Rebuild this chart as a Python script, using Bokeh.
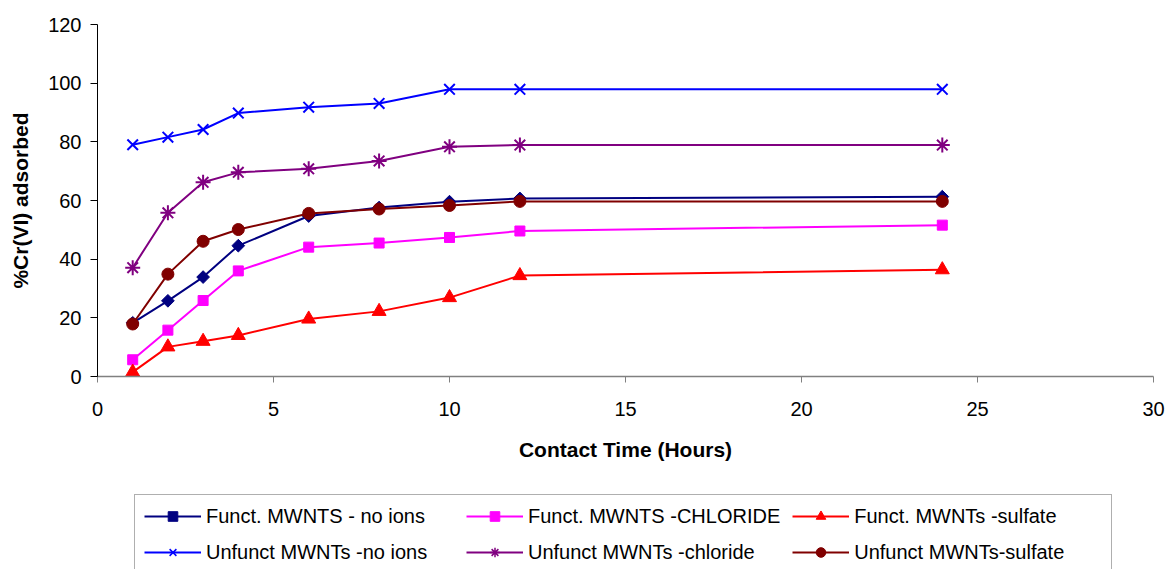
import numpy as np
from bokeh.plotting import figure
from bokeh.layouts import column
from bokeh.models import Legend, LegendItem, Range1d, FixedTicker
from bokeh.embed import file_html
from bokeh.resources import INLINE

# ---- data ----
time_hours = [1, 2, 3, 4, 6, 8, 10, 12, 24]
funct_no_ions = [18.3, 25.8, 33.9, 44.6, 54.7, 57.6, 59.6, 60.7, 61.3]
funct_chloride = [5.7, 15.8, 25.9, 36.0, 44.1, 45.5, 47.4, 49.6, 51.6]
funct_sulfate = [1.5, 10.1, 12.0, 14.0, 19.6, 22.2, 26.9, 34.4, 36.4]
unfunct_no_ions = [79.0, 81.6, 84.2, 89.8, 91.8, 93.1, 97.9, 97.9, 97.9]
unfunct_chloride = [37.1, 55.8, 66.2, 69.6, 70.8, 73.5, 78.3, 78.9, 78.9]
unfunct_sulfate = [17.9, 34.9, 46.1, 50.1, 55.6, 57.1, 58.3, 59.7, 59.7]

series_labels = [
    "Funct. MWNTS - no ions",
    "Funct. MWNTS -CHLORIDE",
    "Funct. MWNTs -sulfate",
    "Unfunct MWNTs -no ions",
    "Unfunct MWNTs -chloride",
    "Unfunct MWNTs-sulfate",
]
series_values = [funct_no_ions, funct_chloride, funct_sulfate,
                 unfunct_no_ions, unfunct_chloride, unfunct_sulfate]
series_colors = ["#000080", "#FF00FF", "#FF0000", "#0000FF", "#800080", "#800000"]
series_markers = ["square", "square", "triangle", "x", "asterisk", "circle"]
series_sizes = [9, 10, 14, 15, 15, 12]
series_angles = [np.pi / 4, 0, 0, 0, 0, 0]
# legend cells are filled column by column: (Funct, Unfunct) pairs
legend_order = [0, 3, 1, 4, 2, 5]

x_ticks = [0, 5, 10, 15, 20, 25, 30]
y_ticks = [0, 20, 40, 60, 80, 100, 120]

FONT = "Liberation Sans"

# ---- main chart ----
p = figure(width=1165, height=494, output_backend="svg", toolbar_location=None,
           x_range=Range1d(0, 30), y_range=Range1d(0, 120),
           min_border_left=97, min_border_top=24, min_border_right=12,
           min_border_bottom=118)
p.outline_line_color = None
p.xgrid.visible = False
p.ygrid.visible = False

p.xaxis.ticker = FixedTicker(ticks=x_ticks)
p.yaxis.ticker = FixedTicker(ticks=y_ticks)
for ax in (p.xaxis[0], p.yaxis[0]):
    ax.minor_tick_line_color = None
    ax.major_tick_in = 0
    ax.major_label_text_font = FONT
    ax.major_label_text_font_size = "20px"
    ax.major_label_text_color = "#000000"
    ax.axis_label_text_font = FONT
    ax.axis_label_text_font_style = "bold"
    ax.axis_label_text_font_size = "21px"
    ax.axis_label_text_color = "#000000"

p.xaxis.axis_label = "Contact Time (Hours)"
p.xaxis.axis_line_color = "#808080"
p.xaxis.major_tick_line_color = "#808080"
p.xaxis.axis_line_width = 1.5
p.xaxis.major_tick_out = 6
p.xaxis.major_label_standoff = 19
p.xaxis.axis_label_standoff = 19

p.yaxis.axis_label = "%Cr(VI) adsorbed"
p.yaxis.axis_line_color = "#000000"
p.yaxis.major_tick_line_color = "#000000"
p.yaxis.major_tick_out = 7
p.yaxis.major_label_standoff = 9
p.yaxis.axis_label_standoff = 13

for vals, col, mk, sz, ang in zip(series_values, series_colors,
                                  series_markers, series_sizes, series_angles):
    p.line(time_hours, vals, line_color=col, line_width=2)
    p.scatter(time_hours, vals, marker=mk, size=sz, angle=ang,
              fill_color=col, line_color=col,
              line_width=2 if mk in ("x", "asterisk") else 1)

# ---- legend strip below the chart (series drawn out of view, legend only) ----
lg = figure(width=1165, height=75, output_backend="svg", toolbar_location=None,
            x_range=Range1d(1000, 1001), y_range=Range1d(1000, 1001),
            x_axis_location=None, y_axis_location=None,
            min_border=0, min_border_left=97, min_border_right=12,
            min_border_top=0, min_border_bottom=0)
lg.outline_line_color = None
lg.xgrid.visible = False
lg.ygrid.visible = False

items = []
for lab, vals, col, mk, ang in zip(series_labels, series_values, series_colors,
                                   series_markers, series_angles):
    ln = lg.line(time_hours, vals, line_color=col, line_width=2)
    sc = lg.scatter(time_hours, vals, marker=mk, size=9, angle=ang,
                    fill_color=col, line_color=col,
                    line_width=1.5 if mk in ("x", "asterisk") else 1)
    items.append(LegendItem(label=lab, renderers=[ln, sc]))
items = [items[i] for i in legend_order]

legend = Legend(items=items, orientation="vertical", nrows=2,
                location=(37, -5),
                label_text_font=FONT, label_text_font_size="20px",
                label_text_color="#000000",
                glyph_width=57, glyph_height=24, label_height=24,
                label_width=248,
                label_standoff=5, spacing=12, padding=9, margin=0,
                border_line_color="#606060", border_line_width=1,
                background_fill_color="white", background_fill_alpha=1)
lg.add_layout(legend, "center")

layout = column(p, lg, spacing=0)
open("out.html", "w").write(file_html(layout, INLINE))
